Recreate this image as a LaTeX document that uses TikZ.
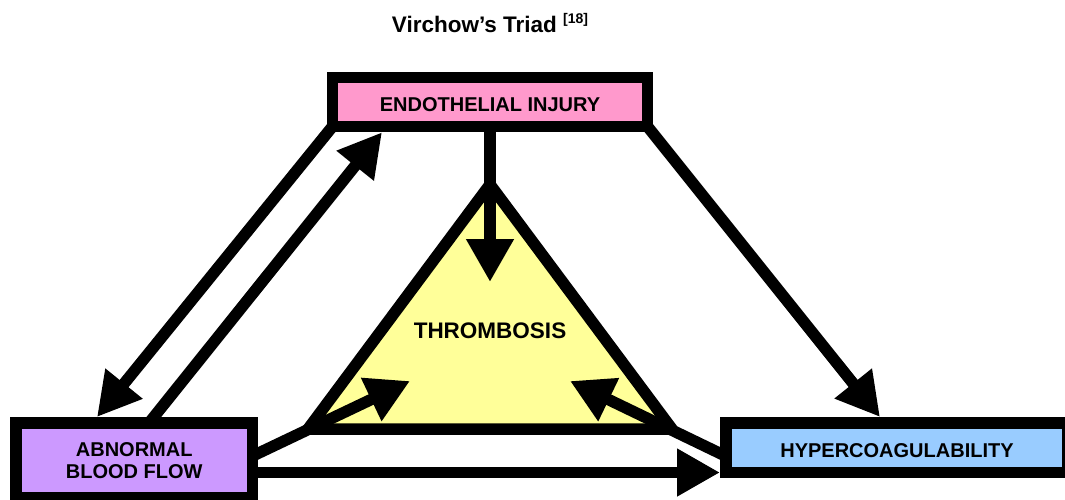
\documentclass[tikz,border=0pt]{standalone}
\usepackage{fontspec}
\setmainfont{Liberation Sans}
\usetikzlibrary{arrows.meta,calc}
\definecolor{pinkB}{HTML}{FF99CC}
\definecolor{purpB}{HTML}{CC99FF}
\definecolor{blueB}{HTML}{99CCFF}
\definecolor{yelT}{HTML}{FFFF99}
\begin{document}
\begin{tikzpicture}[x=1pt,y=-1pt,
  box/.style={draw, line width=11.5pt, inner sep=0pt, outer sep=0pt,
    font=\bfseries\fontsize{20}{22}\selectfont, align=center},
  conn/.style={line width=11.5pt, -{Triangle[length=43pt,width=45pt]}},
  ]
\useasboundingbox (0,0) rectangle (1065,499);

\node[font=\bfseries\fontsize{22.5}{27}\selectfont, anchor=base] (title) at (490,32)
  {Virchow’s Triad \raisebox{9pt}{\fontsize{14}{14}\selectfont[18]}};

\node[box, fill=pinkB, minimum width=315pt, minimum height=49pt,
  text height=19.3pt, text depth=0pt] (endo) at (490,102) {ENDOTHELIAL INJURY};
\node[box, fill=purpB, minimum width=236.5pt, minimum height=75pt]
  (abn) at (134.25,460.5) {ABNORMAL\\BLOOD FLOW};
\node[box, fill=blueB, minimum width=342pt, minimum height=49.5pt,
  text height=19.3pt, text depth=0pt] (hyp) at (897,447.75) {HYPERCOAGULABILITY};

\coordinate (tTop) at (490,184.5);
\coordinate (tL) at (308,429);
\coordinate (tR) at (672,429);
\draw[line width=11.5pt, fill=yelT, line join=round]
  (tTop) -- (tL) -- (tR) -- cycle;
\node[font=\bfseries\fontsize{22.5}{27}\selectfont] (thr) at (490,331) {THROMBOSIS};

\coordinate (pT) at (490,282);
\coordinate (pL) at (410,381);
\coordinate (pR) at (570,381);

\draw[conn] (endo.south) -- (pT);
\draw[conn] (endo.south west) -- ($(abn.north west)+(81,-6)$);
\draw[conn] ($(abn.north west)+(133,0)$) -- ($(endo.south west)+(49.5,5.75)$);
\draw[conn] (endo.south east) -- ($(hyp.north west)+(154,-6)$);
\draw[conn] ($(abn.east)+(0,-4.5)$) -- (pL);
\draw[conn] ($(hyp.west)+(0,8.5)$) -- (pR);
\draw[conn] ($(abn.east)+(0,12)$) -- ($(hyp.west)+(-6,24.75)$);
\end{tikzpicture}
\end{document}
